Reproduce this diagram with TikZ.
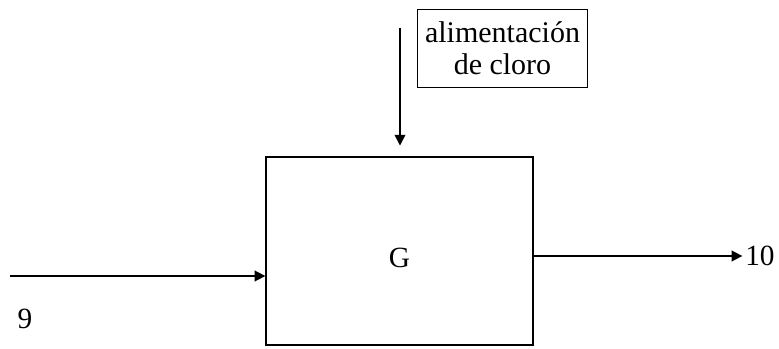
\documentclass[tikz,border=0pt]{standalone}
\usepackage{fontspec}
\setmainfont{Liberation Serif}
\usetikzlibrary{positioning, arrows.meta}

\begin{document}
\begin{tikzpicture}[x=0.75pt, y=-0.75pt,
    flow/.style={line width=1.2pt, -{Triangle[length=8pt, width=8pt]}},
    unit/.style={draw, line width=1.2pt, minimum width=200pt, minimum height=141pt, text height=24.5pt, text depth=0pt, font=\fontsize{22}{24}\selectfont},
    feed/.style={draw, line width=0.7pt, minimum width=128pt, minimum height=59pt, align=center, font=\fontsize{22.5}{24}\selectfont},
    lbl/.style={font=\fontsize{22}{24}\selectfont}]
    \useasboundingbox (0,0) rectangle (779,349);
    % reactor G
    \node[unit] (G) at (399.5,251) {G};
    % chlorine feed
    \node[feed] (cl) at (502.5,48.5) {alimentación\\de cloro};
    \coordinate (clin) at (400,28);
    \draw[flow, shorten >=8pt] (clin) -- (clin |- G.north);
    % streams 9 and 10
    \coordinate (in9) at (10,276);
    \draw[flow] (in9) -- (in9 -| G.west);
    \node[lbl] (s9) at (25,319) {9};
    \node[lbl, anchor=west, inner sep=0pt] (s10) at (745,256) {10};
    \draw[flow, shorten >=2pt] (G.east |- s10.west) -- (s10.west);
\end{tikzpicture}
\end{document}
